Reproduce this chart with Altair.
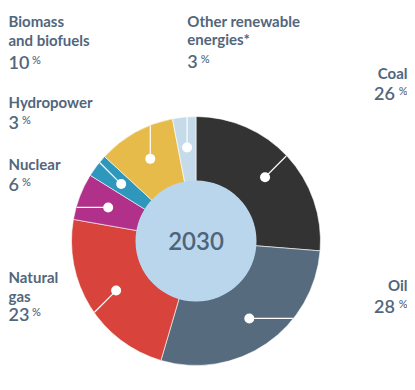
import altair as alt
import pandas as pd

# ---------------- data ----------------
categories = ["Coal", "Oil", "Natural gas", "Nuclear", "Hydropower",
              "Biomass and biofuels", "Other renewable energies*"]
label_text = ["Coal", "Oil", "Natural\ngas", "Nuclear", "Hydropower",
              "Biomass\nand biofuels", "Other renewable\nenergies*"]
shares = [26, 28, 23, 6, 3, 10, 3]
year = "2030"

# ---------------- style ----------------
colors = ["#333333", "#576b7f", "#d8433b", "#b0308a", "#2f97bb", "#e6bb4a", "#c6dbea"]
TEXT = "#52667c"
DISC = "#bad6ed"
FONT = "Lato"

# ---------------- layout ----------------
W, H = 399, 376            # plot area
CX, CY = 188, 233          # pie centre inside plot area
R_OUT, R_IN, R_DOT = 124.5, 60.5, 94
MARGIN = 8

# direction of each leader line (degrees clockwise from 12 o'clock)
leader_dir = {"Coal": 45, "Oil": 90, "Natural gas": 225, "Nuclear": 270,
              "Hydropower": 315, "Biomass and biofuels": 0,
              "Other renewable energies*": 0}
# label anchor on the page: x, name baseline, number baseline, align
label_layout = {
    "Coal": (407.5, 79, 100, "right"),
    "Oil": (407.5, 290.7, 312.7, "right"),
    "Natural gas": (8.5, 283.3, 321, "left"),
    "Nuclear": (8.5, 170, 191, "left"),
    "Hydropower": (8.5, 108, 129, "left"),
    "Biomass and biofuels": (8.5, 27.3, 69, "left"),
    "Other renewable energies*": (187.3, 26.7, 68.3, "left"),
}

rows = []
for i, (c, lt, s) in enumerate(zip(categories, label_text, shares)):
    px, ny, vy, al = label_layout[c]
    rows.append({
        "idx": i, "category": c, "label": lt, "share": s,
        "num": str(s), "dir": leader_dir[c], "align": al,
        "lx": px - MARGIN - CX,
        "ly": CY - (ny - MARGIN),
        "nly": CY - (vy - MARGIN),
    })
df = pd.DataFrame(rows)

xs = alt.Scale(domain=[-CX, W - CX], nice=False, zero=False)
ys = alt.Scale(domain=[-(H - CY), CY], nice=False, zero=False)


def X(f):
    return alt.X(f, scale=xs, axis=None)


def Y(f):
    return alt.Y(f, scale=ys, axis=None)


base = alt.Chart(df)

ring = base.mark_arc(innerRadius=R_IN - 1, outerRadius=R_OUT, stroke="white",
                     strokeWidth=0.6).encode(
    theta=alt.Theta("share:Q", stack=True),
    order=alt.Order("idx:Q"),
    color=alt.Color("category:N", scale=alt.Scale(domain=categories, range=colors),
                    legend=None),
    x=alt.XDatum(0, scale=xs, axis=None),
    y=alt.YDatum(0, scale=ys, axis=None),
)

centre = alt.Chart(alt.Data(values=[{"year": year}]))
disc = centre.mark_circle(size=(2 * R_IN) ** 2, color=DISC, opacity=1).encode(
    x=alt.XDatum(0, scale=xs, axis=None),
    y=alt.YDatum(0, scale=ys, axis=None),
)
year_text = centre.mark_text(font=FONT, fontSize=24, fontWeight=600, color="#4f6379",
                             align="center", baseline="alphabetic").encode(
    x=alt.XDatum(0, scale=xs, axis=None),
    y=alt.YDatum(-9, scale=ys, axis=None),
    text="year:N",
)

geo = base.transform_window(
    cum="sum(share)", sort=[alt.SortField("idx")], frame=[None, 0]
).transform_joinaggregate(total="sum(share)").transform_calculate(
    th="2*PI*(datum.cum - datum.share/2)/datum.total",
    phi="datum.dir*PI/180",
).transform_calculate(
    dx=f"{R_DOT}*sin(datum.th)",
    dy=f"{R_DOT}*cos(datum.th)",
    cc="cos(datum.th - datum.phi)",
).transform_calculate(
    t=f"-{R_DOT}*datum.cc + sqrt({R_DOT}*{R_DOT}*datum.cc*datum.cc + {R_OUT - 0.5}*{R_OUT - 0.5} - {R_DOT}*{R_DOT})",
).transform_calculate(
    ex="datum.dx + datum.t*sin(datum.phi)",
    ey="datum.dy + datum.t*cos(datum.phi)",
)

leaders = geo.mark_rule(color="white", strokeWidth=1.2).encode(
    x=X("dx:Q"), y=Y("dy:Q"), x2="ex:Q", y2="ey:Q")
dots = geo.mark_circle(size=100, color="white", opacity=1).encode(
    x=X("dx:Q"), y=Y("dy:Q"))

name_style = dict(font=FONT, fontSize=15, fontWeight="bold", color=TEXT,
                  baseline="alphabetic", lineBreak="\n", lineHeight=18.5)
num_style = dict(font=FONT, fontSize=18, fontWeight=600, color=TEXT, baseline="alphabetic")
pct_style = dict(font=FONT, fontSize=11, fontWeight=500, color=TEXT, baseline="alphabetic")

left = base.transform_filter("datum.align == 'left'")
right = base.transform_filter("datum.align == 'right'")

names_l = left.mark_text(align="left", **name_style).encode(
    x=X("lx:Q"), y=Y("ly:Q"), text="label:N")
names_r = right.mark_text(align="right", **name_style).encode(
    x=X("lx:Q"), y=Y("ly:Q"), text="label:N")

nums_l = left.mark_text(align="left", **num_style).encode(
    x=X("lx:Q"), y=Y("nly:Q"), text="num:N")
nums_r = right.transform_calculate(nx="datum.lx - 12.5").mark_text(
    align="right", **num_style).encode(x=X("nx:Q"), y=Y("nly:Q"), text="num:N")

pct_l = left.transform_calculate(
    px="datum.lx + 10*length(datum.num) + 3.5", py="datum.nly + 5", p="'%'"
).mark_text(align="left", **pct_style).encode(x=X("px:Q"), y=Y("py:Q"), text="p:N")
pct_r = right.transform_calculate(py="datum.nly + 5", p="'%'").mark_text(
    align="right", **pct_style).encode(x=X("lx:Q"), y=Y("py:Q"), text="p:N")

chart = alt.layer(
    ring, disc, year_text, leaders, dots,
    names_l, names_r, nums_l, nums_r, pct_l, pct_r,
).properties(
    width=W, height=H, padding=0, autosize=alt.AutoSizeParams(type="none"),
    background="white",
).configure_view(stroke=None)

chart.save("out.html", embed_options={"renderer": "svg", "actions": False})
